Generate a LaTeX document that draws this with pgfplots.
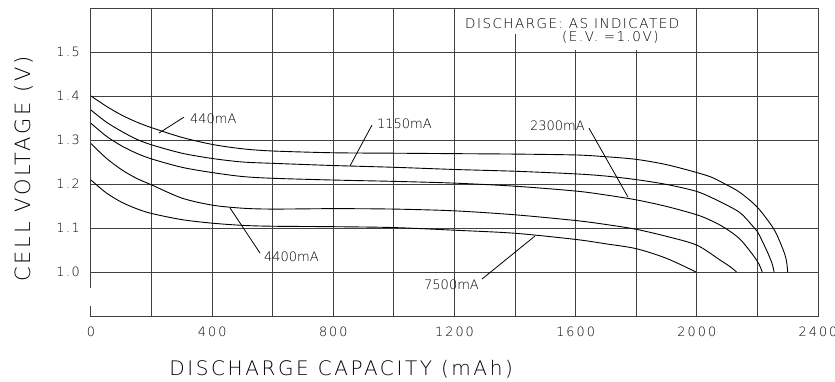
\documentclass[border=0pt]{standalone}
\usepackage{fontspec}
\setmainfont{DejaVu Sans ExtraLight}
\newfontfamily\lsX{DejaVu Sans ExtraLight}[LetterSpace=13]
\newfontfamily\lsT{DejaVu Sans ExtraLight}[LetterSpace=16]
\newfontfamily\lsB{DejaVu Sans ExtraLight}[LetterSpace=11]
\usepackage{pgfplots}
\pgfplotsset{compat=1.18}
\begin{document}
\begin{tikzpicture}
\useasboundingbox (-91pt,-65pt) rectangle (744pt,316pt);
\clip (-91pt,-65pt) rectangle (744pt,316pt);
\begin{axis}[
  at={(0pt,0pt)}, anchor=south west,
  scale only axis, width=727pt, height=308pt,
  xmin=0, xmax=2400, ymin=0.9, ymax=1.6,
  clip=false,
  axis line style={draw=none},
  xtick={400,800,1200,1600,2000},
  xticklabels={400,800,1200,1600,2000},
  extra x ticks={0,2400},
  extra x tick labels={0,2400},
  extra x tick style={grid=none},
  minor xtick={200,600,1000,1400,1800,2200},
  ytick={1.0,1.1,1.2,1.3,1.4,1.5},
  yticklabels={1\kern1.5pt.\kern1.5pt0,1\kern1.5pt.\kern1.5pt1,1\kern1.5pt.\kern1.5pt2,1\kern1.5pt.\kern1.5pt3,1\kern1.5pt.\kern1.5pt4,1\kern1.5pt.\kern1.5pt5},
  grid=both,
  major grid style={black!75, line width=1pt},
  minor grid style={black!75, line width=1pt},
  major tick length=0pt, minor tick length=0pt,
  xticklabel style={font=\lsT\fontsize{12.8}{14}\selectfont, anchor=base, yshift=-20pt, inner sep=0pt},
  yticklabel style={font=\lsT\fontsize{12.8}{14}\selectfont, anchor=east, xshift=-11pt, inner sep=0pt},
  xlabel={DISCHARGE CAPACITY (mAh)},
  ylabel={CELL VOLTAGE (V)},
  xlabel style={font=\lsX\fontsize{20}{22}\selectfont, at={(axis description cs:0.344,-0.1916)}, anchor=base},
  ylabel style={font=\lsX\fontsize{21}{23}\selectfont, at={(axis description cs:-0.092,0.477)}, anchor=center},
]
% 440mA
\addplot[black, line width=0.9pt, smooth, tension=0.5] coordinates {
(0,1.400)(50,1.377)(100,1.357)(150,1.341)(200,1.328)(300,1.306)(400,1.290)(500,1.280)(600,1.275)(800,1.271)(1000,1.270)(1200,1.269)(1400,1.268)(1600,1.266)(1700,1.262)(1800,1.256)(1900,1.244)(2000,1.226)(2050,1.215)(2093,1.200)(2142,1.181)(2200,1.147)(2252,1.100)(2274,1.069)(2291,1.039)(2297,1.020)(2300,1.000)};
% 1150mA
\addplot[black, line width=0.9pt, smooth, tension=0.5] coordinates {
(0,1.368)(50,1.341)(100,1.320)(150,1.302)(200,1.289)(300,1.270)(400,1.258)(500,1.250)(600,1.247)(800,1.242)(1000,1.238)(1200,1.233)(1400,1.229)(1600,1.223)(1700,1.218)(1800,1.210)(1900,1.199)(2000,1.183)(2070,1.162)(2142,1.135)(2186,1.103)(2200,1.092)(2230,1.050)(2248,1.020)(2255,1.000)};
% 2300mA
\addplot[black, line width=0.9pt, smooth, tension=0.5] coordinates {
(0,1.338)(50,1.309)(100,1.287)(150,1.270)(200,1.257)(300,1.238)(400,1.226)(500,1.217)(600,1.213)(800,1.209)(1000,1.206)(1200,1.202)(1400,1.195)(1600,1.184)(1700,1.175)(1800,1.164)(1900,1.149)(2000,1.130)(2050,1.116)(2093,1.100)(2142,1.075)(2186,1.038)(2205,1.018)(2216,1.000)};
% 4400mA
\addplot[black, line width=0.9pt, smooth, tension=0.5] coordinates {
(0,1.292)(50,1.259)(100,1.233)(150,1.213)(200,1.198)(300,1.168)(400,1.152)(500,1.145)(600,1.143)(800,1.144)(1000,1.143)(1200,1.139)(1400,1.130)(1600,1.117)(1700,1.108)(1800,1.097)(1900,1.081)(2000,1.061)(2077,1.027)(2110,1.012)(2131,1.000)};
% 7500mA
\addplot[black, line width=0.9pt, smooth, tension=0.5] coordinates {
(0,1.209)(50,1.180)(100,1.159)(150,1.144)(200,1.133)(300,1.119)(400,1.111)(500,1.106)(600,1.104)(800,1.103)(1000,1.101)(1200,1.095)(1400,1.088)(1600,1.074)(1700,1.064)(1800,1.053)(1900,1.031)(1997,1.000)};
% blank box behind the note
\fill[white] (axis cs:1385,1.540) rectangle (axis cs:1415,1.597);
\fill[white] (axis cs:1575,1.504) rectangle (axis cs:1825,1.597);
\node[anchor=base west, inner sep=0pt, font=\lsB\fontsize{13.5}{15}\selectfont] at (axis cs:1234.6,1.5545) {DISCHARGE: AS INDICATED};
\node[anchor=base west, inner sep=0pt, font=\lsB\fontsize{13.5}{15}\selectfont] at (axis cs:1555,1.525) {(E.V. =1.0V)};
% curve labels
\begin{scope}[every node/.style={inner sep=0pt, font=\fontsize{13}{14}\selectfont}]
\node[anchor=west] at (axis cs:326.8,1.3477) {440mA};
\node[anchor=west] at (axis cs:944,1.336) {1150mA};
\node[anchor=east] at (axis cs:1630.7,1.3318) {2300mA};
\node[anchor=west] at (axis cs:571,1.034) {4400mA};
\node[anchor=east] at (axis cs:1281,0.9705) {7500mA};
\end{scope}
\draw[black, line width=0.8pt] (axis cs:307,1.352) -- (axis cs:224.5,1.3159);
\draw[black, line width=0.8pt] (axis cs:927.6,1.334) -- (axis cs:855,1.241);
\draw[black, line width=0.8pt] (axis cs:1644,1.327) -- (axis cs:1772.6,1.1705);
\draw[black, line width=0.8pt] (axis cs:558,1.043) -- (axis cs:459,1.1455);
\draw[black, line width=0.8pt] (axis cs:1290.7,0.984) -- (axis cs:1465.7,1.0818);
% frame with the small gap at the lower left
\draw[black!75, line width=1pt] (axis cs:0,0.964) -- (axis cs:0,1.6) -- (axis cs:2400,1.6) -- (axis cs:2400,0.9) -- (axis cs:0,0.9) -- (axis cs:0,0.923);
\end{axis}
\end{tikzpicture}
\end{document}
